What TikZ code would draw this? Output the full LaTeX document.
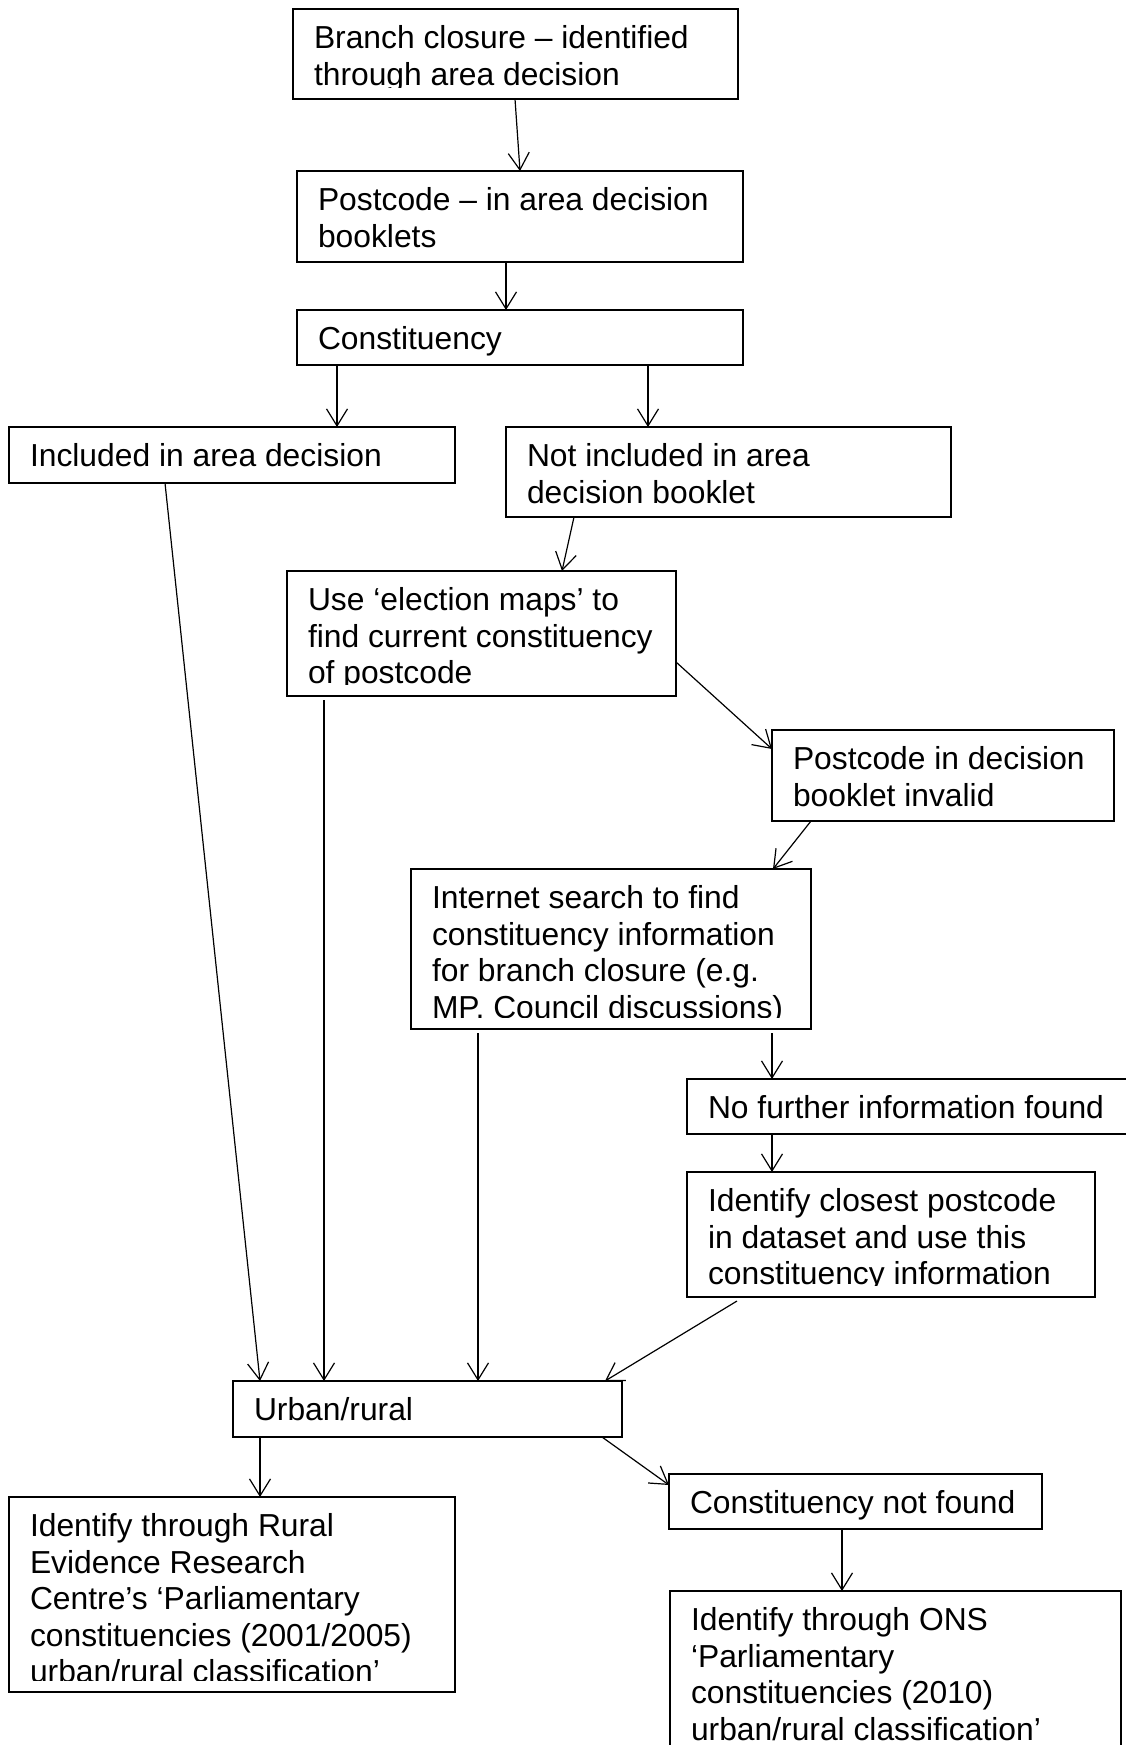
\documentclass[tikz,border=0pt]{standalone}
\usepackage{fontspec}
\setmainfont{Liberation Sans}
\usetikzlibrary{arrows.meta,calc}
\begin{document}
\begin{tikzpicture}[x=1pt,y=-1pt,
  box/.style={draw, line width=1.9pt, rectangle, anchor=north west, inner sep=0pt, outer sep=0pt},
  txt/.style={anchor=base west, inner sep=0pt, outer sep=0pt, font=\fontsize{31.8pt}{36.6pt}\selectfont},
  arr/.style={-{Straight Barb[length=17pt,width=21pt]}, line width=1.2pt}]
\useasboundingbox (0,0) rectangle (1126,1745);
\clip (0,0) rectangle (1126,1745);
\fill[white] (0,0) rectangle (1126,1745);
% boxes
\node[box, minimum width=445pt, minimum height=90pt] (b1) at (293,9) {};
\node[box, minimum width=446pt, minimum height=91pt] (b2) at (297,171) {};
\node[box, minimum width=446pt, minimum height=55pt] (b3) at (297,310) {};
\node[box, minimum width=446pt, minimum height=56pt] (b4) at (9,427) {};
\node[box, minimum width=445pt, minimum height=90pt] (b5) at (506,427) {};
\node[box, minimum width=389pt, minimum height=125pt] (b6) at (287,571) {};
\node[box, minimum width=342pt, minimum height=91pt] (b7) at (772,730) {};
\node[box, minimum width=400pt, minimum height=160pt] (b8) at (411,869) {};
\node[box, minimum width=470pt, minimum height=55pt] (b9) at (687,1079) {};
\node[box, minimum width=408pt, minimum height=125pt] (b10) at (687,1172) {};
\node[box, minimum width=389pt, minimum height=56pt] (b11) at (233,1381) {};
\node[box, minimum width=446pt, minimum height=195pt] (b12) at (9,1497) {};
\node[box, minimum width=373pt, minimum height=55pt] (b13) at (669,1474) {};
\node[box, minimum width=451pt, minimum height=200pt] (b14) at (670,1591) {};
% texts
\begin{scope}
\clip (b1.north west) rectangle ([yshift=11.5pt]b1.south east);
\node[txt] (t1) at ([xshift=21pt,yshift=-39.5pt]b1.north west) {\parbox[t]{600pt}{Branch closure – identified\\through area decision}};
\end{scope}
\node[txt] (t2) at ([xshift=21pt,yshift=-39.5pt]b2.north west) {\parbox[t]{600pt}{Postcode – in area decision\\booklets}};
\node[txt] (t3) at ([xshift=21pt,yshift=-39.5pt]b3.north west) {\parbox[t]{600pt}{Constituency}};
\node[txt] (t4) at ([xshift=21pt,yshift=-39.5pt]b4.north west) {\parbox[t]{600pt}{Included in area decision}};
\node[txt] (t5) at ([xshift=21pt,yshift=-39.5pt]b5.north west) {\parbox[t]{600pt}{Not included in area\\decision booklet}};
\begin{scope}
\clip (b6.north west) rectangle ([yshift=11.5pt]b6.south east);
\node[txt] (t6) at ([xshift=21pt,yshift=-39.5pt]b6.north west) {\parbox[t]{600pt}{Use ‘election maps’ to\\find current constituency\\of postcode}};
\end{scope}
\node[txt] (t7) at ([xshift=21pt,yshift=-39.5pt]b7.north west) {\parbox[t]{600pt}{Postcode in decision\\booklet invalid}};
\begin{scope}
\clip (b8.north west) rectangle ([yshift=11.5pt]b8.south east);
\node[txt] (t8) at ([xshift=21pt,yshift=-39.5pt]b8.north west) {\parbox[t]{600pt}{Internet search to find\\constituency information\\for branch closure (e.g.\\MP, Council discussions)}};
\end{scope}
\node[txt] (t9) at ([xshift=21pt,yshift=-39.5pt]b9.north west) {\parbox[t]{600pt}{No further information found}};
\begin{scope}
\clip (b10.north west) rectangle ([yshift=11.5pt]b10.south east);
\node[txt] (t10) at ([xshift=21pt,yshift=-39.5pt]b10.north west) {\parbox[t]{600pt}{Identify closest postcode\\in dataset and use this\\constituency information}};
\end{scope}
\node[txt] (t11) at ([xshift=21pt,yshift=-39.5pt]b11.north west) {\parbox[t]{600pt}{Urban/rural}};
\begin{scope}
\clip (b12.north west) rectangle ([yshift=11.5pt]b12.south east);
\node[txt] (t12) at ([xshift=21pt,yshift=-39.5pt]b12.north west) {\parbox[t]{600pt}{Identify through Rural\\Evidence Research\\Centre’s ‘Parliamentary\\constituencies (2001/2005)\\urban/rural classification’}};
\end{scope}
\node[txt] (t13) at ([xshift=21pt,yshift=-39.5pt]b13.north west) {\parbox[t]{600pt}{Constituency not found}};
\node[txt] (t14) at ([xshift=21pt,yshift=-39.5pt]b14.north west) {\parbox[t]{600pt}{Identify through ONS\\‘Parliamentary\\constituencies (2010)\\urban/rural classification’}};
% connectors
\draw[arr] ([xshift=222pt]b1.south west) -- ([xshift=223pt]b2.north west);
\draw[arr] ([xshift=209pt]b2.south west) -- ([xshift=209pt]b3.north west);
\draw[arr] ([xshift=40pt]b3.south west) -- ([xshift=328pt]b4.north west);
\draw[arr] ([xshift=351pt]b3.south west) -- ([xshift=142pt]b5.north west);
\draw[arr] ([xshift=68pt]b5.south west) -- ([xshift=275pt]b6.north west);
\draw[arr] ([yshift=-91pt]b6.north east) -- ([yshift=-19pt]b7.north west);
\draw[arr] ([xshift=39pt]b7.south west) -- ([xshift=362pt]b8.north west);
\draw[arr] ([xshift=361pt,yshift=-4pt]b8.south west) -- ([xshift=85pt]b9.north west);
\draw[arr] ([xshift=85pt]b9.south west) -- ([xshift=85pt]b10.north west);
\draw[arr] ([xshift=50pt,yshift=-4pt]b10.south west) -- ([xshift=372pt]b11.north west);
\draw[arr] ([xshift=156pt]b4.south west) -- ([xshift=27pt]b11.north west);
\draw[arr] ([xshift=37pt,yshift=-4pt]b6.south west) -- ([xshift=91pt]b11.north west);
\draw[arr] ([xshift=67pt,yshift=-4pt]b8.south west) -- ([xshift=245pt]b11.north west);
\draw[arr] ([xshift=27pt]b11.south west) -- ([xshift=251pt]b12.north west);
\draw[arr] ([xshift=369pt]b11.south west) -- ([yshift=-11pt]b13.north west);
\draw[arr] ([xshift=173pt]b13.south west) -- ([xshift=172pt]b14.north west);
\end{tikzpicture}
\end{document}
